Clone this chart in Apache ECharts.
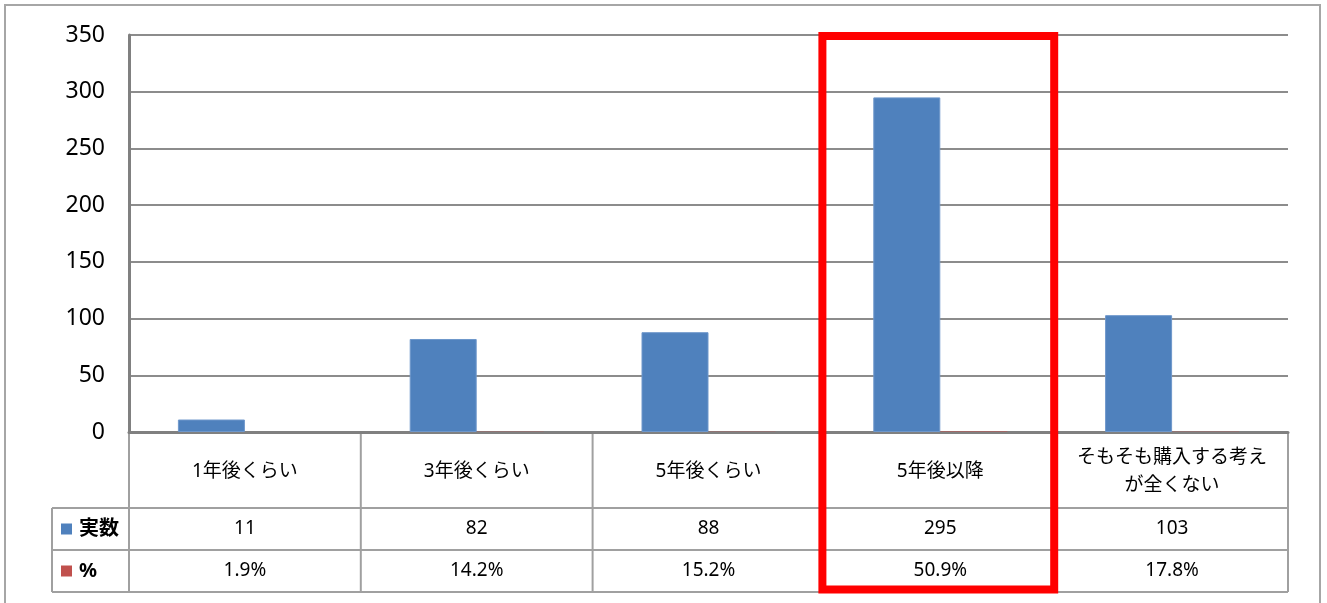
<!DOCTYPE html>
<html>
<head>
<meta charset="utf-8">
<script src="https://cdn.jsdelivr.net/npm/echarts@6/dist/echarts.min.js"></script>
<style>
  html, body { margin: 0; padding: 0; background: #fff; }
  #chart { width: 1327px; height: 603px; }
</style>
</head>
<body>
<div id="chart"></div>
<script>
// data
const categories = ['1年後くらい', '3年後くらい', '5年後くらい', '5年後以降', 'そもそも購入する考えが全くない'];
const counts = [11, 82, 88, 295, 103];
const percents = [1.9, 14.2, 15.2, 50.9, 17.8];
const seriesNames = ['実数', '%'];
const seriesColors = ['#4F81BD', '#C0504D'];
const yMin = 0, yMax = 350, yStep = 50;
const highlightIndex = 3;

const FONT = '"Noto Sans", "Noto Sans CJK JP", sans-serif';
const chart = echarts.init(document.getElementById('chart'));

chart.setOption({
    animation: false,
    backgroundColor: '#fff',
    grid: { left: 129, right: 39, top: 35, bottom: 171 },
    xAxis: {
        type: 'category',
        data: categories,
        axisLine: { lineStyle: { color: '#808080', width: 3 } },
        axisTick: { show: false },
        axisLabel: {
            interval: 0,
            margin: 40,
            verticalAlign: 'middle',
            color: '#000',
            fontFamily: FONT,
            fontSize: 19,
            lineHeight: 28,
            width: 200,
            overflow: 'breakAll'
        }
    },
    yAxis: {
        type: 'value',
        min: yMin,
        max: yMax,
        interval: yStep,
        axisLine: { show: true, lineStyle: { color: '#808080', width: 3 } },
        axisTick: { show: false },
        axisLabel: { margin: 24, color: '#000', fontFamily: FONT, fontSize: 23 },
        splitLine: { lineStyle: { color: '#8c8c8c', width: 2 } }
    },
    series: [
        {
            name: seriesNames[0],
            type: 'bar',
            data: counts,
            barWidth: 67,
            barGap: '0%',
            itemStyle: { color: seriesColors[0], borderColor: '#6E97CB', borderWidth: 1 }
        },
        {
            // percentages as fractions on the same axis, like the original (practically invisible)
            name: seriesNames[1],
            type: 'bar',
            data: percents.map(p => p / 100),
            barWidth: 67,
            itemStyle: { color: seriesColors[1] }
        }
    ]
});

// data table below the plot + highlight box
function buildTable() {
    const c0 = chart.convertToPixel({ xAxisIndex: 0 }, 0);
    const c1 = chart.convertToPixel({ xAxisIndex: 0 }, 1);
    const band = c1 - c0;
    const left = c0 - band / 2;
    const right = left + band * categories.length;
    const zeroY = chart.convertToPixel({ yAxisIndex: 0 }, 0);
    const topY = chart.convertToPixel({ yAxisIndex: 0 }, yMax);
    const rowY = [zeroY + 76, zeroY + 118, zeroY + 160];
    const legendLeft = 52;
    const lineStyle = { stroke: '#a0a0a0', lineWidth: 2 };
    const els = [];

    // outer frame
    els.push({ type: 'rect', shape: { x: 5, y: 5, width: 1315, height: 640 },
        style: { fill: null, stroke: '#a6a6a6', lineWidth: 2 }, z: 0 });

    // horizontal lines
    rowY.forEach(y => {
        els.push({ type: 'line', shape: { x1: legendLeft, y1: y, x2: right, y2: y }, style: lineStyle });
    });
    // vertical lines
    for (let i = 0; i <= categories.length; i++) {
        const x = left + band * i;
        els.push({ type: 'line', shape: { x1: x, y1: zeroY, x2: x, y2: rowY[2] }, style: lineStyle });
    }
    els.push({ type: 'line', shape: { x1: legendLeft, y1: rowY[0], x2: legendLeft, y2: rowY[2] }, style: lineStyle });

    // legend cells
    const rows = [counts.map(String), percents.map(p => p.toFixed(1) + '%')];
    rows.forEach((vals, r) => {
        const cy = (rowY[r] + rowY[r + 1]) / 2;
        els.push({ type: 'rect', shape: { x: 61, y: cy - 5.5, width: 11, height: 11 },
            style: { fill: seriesColors[r] } });
        els.push({ type: 'text', x: 79, y: cy,
            style: { text: seriesNames[r], fill: '#000', font: 'bold 20px ' + FONT,
                verticalAlign: 'middle', align: 'left' } });
        vals.forEach((v, i) => {
            els.push({ type: 'text', x: chart.convertToPixel({ xAxisIndex: 0 }, i), y: cy,
                style: { text: v, fill: '#000', font: '19px ' + FONT,
                    verticalAlign: 'middle', align: 'center' } });
        });
    });

    // red highlight box around one category
    const hx = left + band * highlightIndex - 2;
    els.push({ type: 'rect', z: 100,
        shape: { x: hx, y: topY + 1, width: band, height: rowY[2] - 2.5 - (topY + 1) },
        style: { fill: null, stroke: '#FF0000', lineWidth: 8 } });

    chart.setOption({ graphic: els });
}
buildTable();
</script>
</body>
</html>
